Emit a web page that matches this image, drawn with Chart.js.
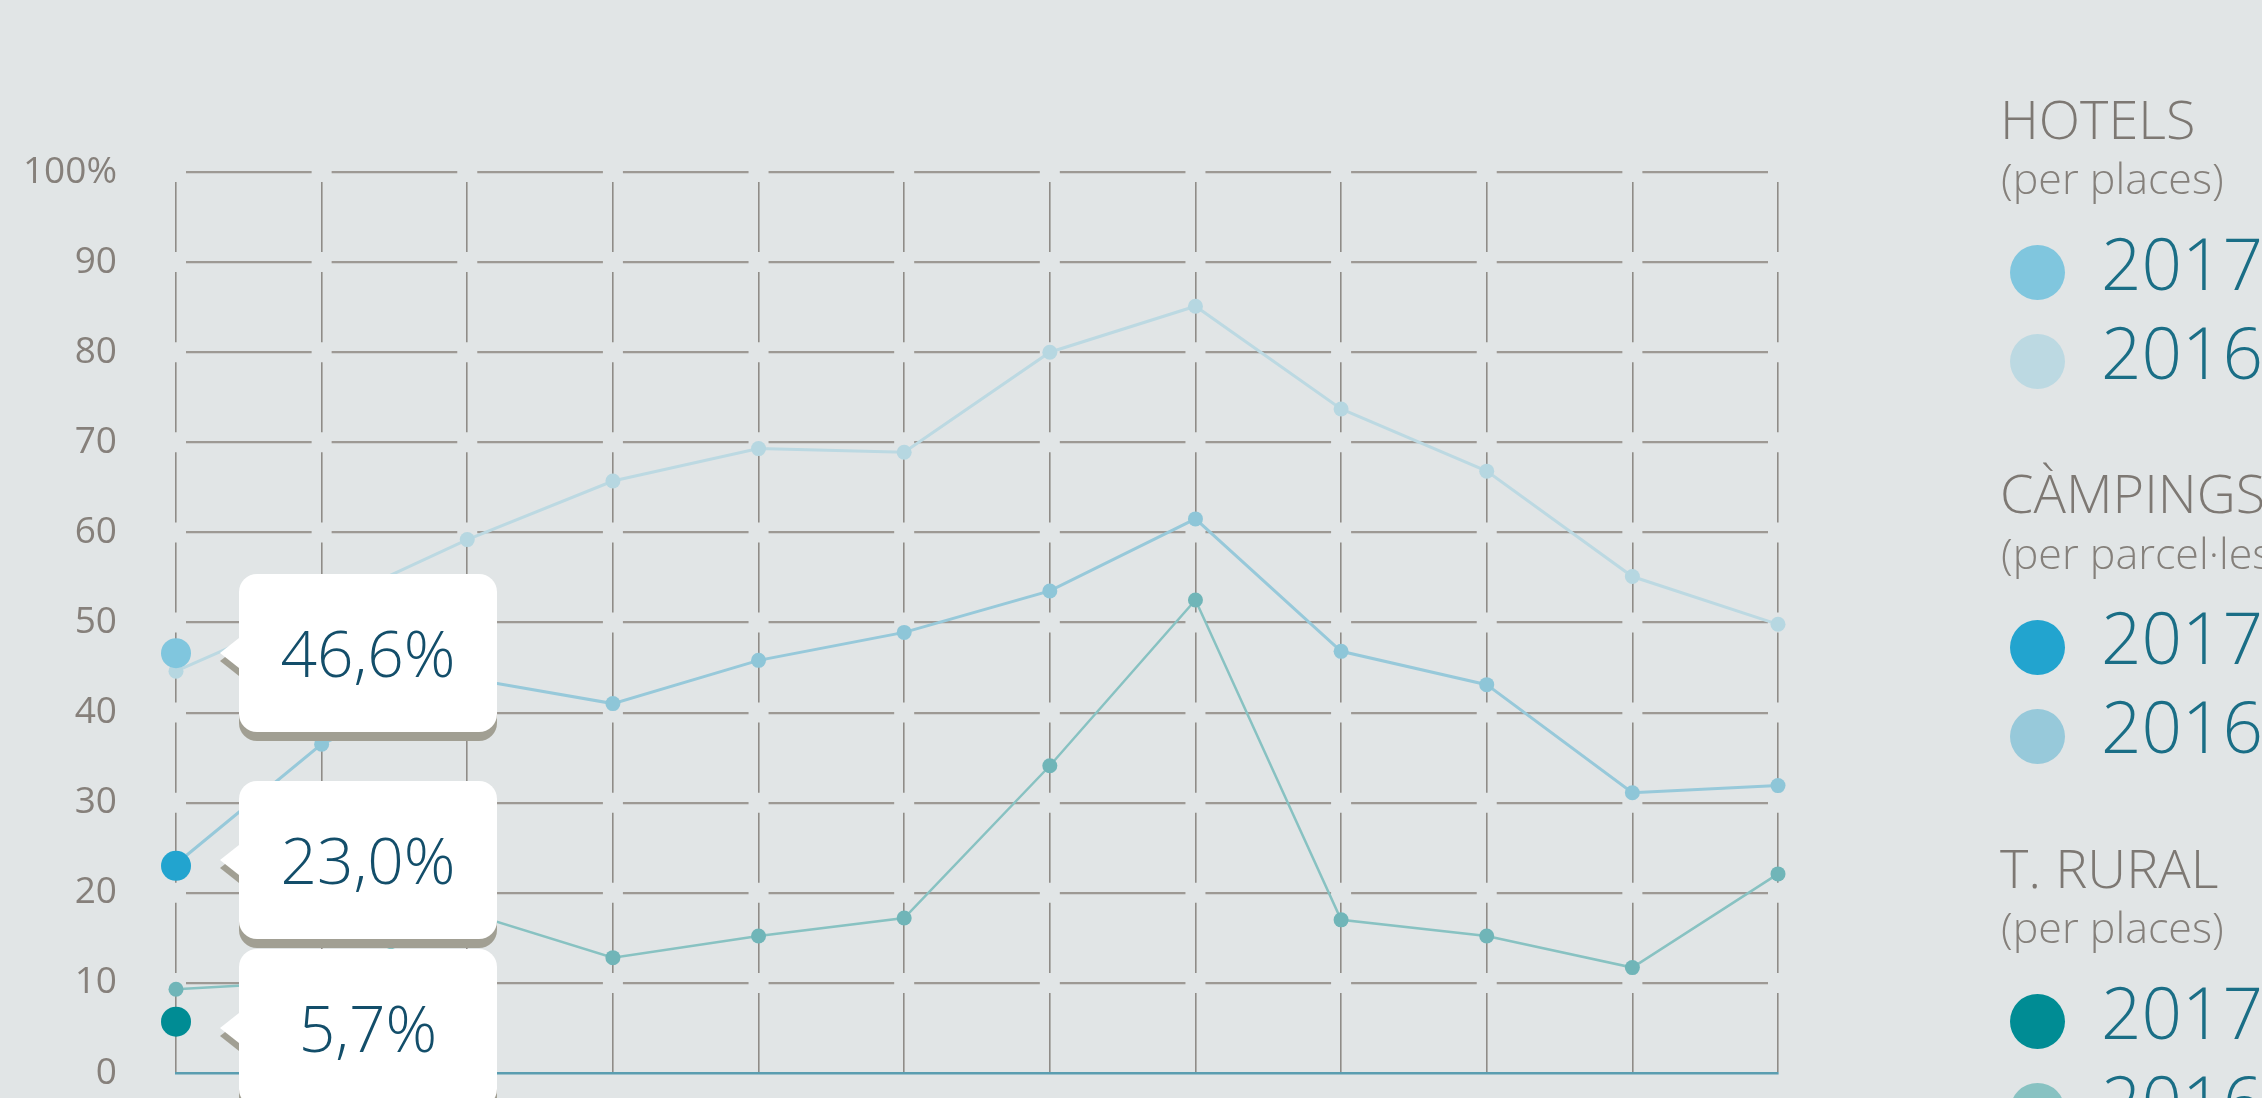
<!DOCTYPE html>
<html>
<head>
<meta charset="utf-8">
<script src="https://cdn.jsdelivr.net/npm/chart.js@4.4.1/dist/chart.umd.min.js"></script>
<style>
html,body{margin:0;padding:0;background:#e1e5e6;overflow:hidden;}
#wrap{position:relative;width:2262px;height:1098px;overflow:hidden;font-family:'Open Sans',sans-serif;background:#e1e5e6;}
#c{position:absolute;left:0;top:0;}
.lg{position:absolute;white-space:nowrap;line-height:1;font-weight:300;}
.grp{color:#7d7873;font-size:54px;}
.sub{color:#85807b;font-size:43px;}
.yr{color:#1a6e86;font-size:71px;font-weight:300;}
.dot{position:absolute;width:55px;height:55px;border-radius:50%;}
.tip{position:absolute;width:258px;height:158px;background:#fff;border-radius:18px;box-shadow:0 9px 0 0 #a19f93;display:flex;align-items:center;justify-content:center;font-size:64px;font-weight:300;color:#134e6a;line-height:1;}
.tip:before,.tip:after{content:"";position:absolute;left:-19px;width:0;height:0;border-top:15px solid transparent;border-bottom:15px solid transparent;}
.tip:before{border-right:19px solid #a19f93;top:calc(50% - 7px);}
.tip:after{border-right:19px solid #fff;top:calc(50% - 15px);}
</style>
</head>
<body>
<div id="wrap">
<canvas id="c" width="2262" height="1098" style="width:2262px;height:1098px"></canvas>
</div>
<script>
// ---- data ----
const months = ['Gen','Feb','Mar','Abr','Mai','Jun','Jul','Ago','Set','Oct','Nov','Des'];
const yTicks = [0,10,20,30,40,50,60,70,80,90,100];
const hotels2016   = [44.6, 51.7, 59.2, 65.7, 69.3, 68.9, 80.0, 85.1, 73.7, 66.8, 55.1, 49.8];
const campings2016 = [23.2, 36.5, 43.8, 41.0, 45.8, 48.9, 53.5, 61.5, 46.8, 43.1, 31.1, 31.9];
const rural2016    = [9.3, 10.2, 17.8, 12.8, 15.2, 17.2, 34.1, 52.5, 17.0, 15.2, 11.7, 22.1];
const hotels2017   = [46.6];
const campings2017 = [23.0];
const rural2017    = [5.7];
const groups = ['HOTELS', 'CÀMPINGS', 'T. RURAL'];
const groupUnits = ['(per places)', '(per parcel·les)', '(per places)'];
const years = ['2017', '2016'];

// ---- styles ----
const colors2017 = ['#80c6de', '#22a4cf', '#008c94'];
const colors2016 = ['#bcd9e2', '#97c9da', '#88c2c2'];
const points2016 = ['#b6d7e1', '#8ec6d8', '#70b5b8'];
const W = 2262, H = 1098;
const AREA = {left: 176, right: 1778, top: 172, bottom: 1073};
const colStep = (AREA.right - AREA.left) / (months.length - 1);
const rowStep = (AREA.bottom - AREA.top) / (yTicks.length - 1);
const GAP = 20;

// vertical grid lines: gap at every horizontal line except the base line
const vDash = [0, GAP / 2];
for (let r = 0; r < yTicks.length - 1; r++) {
  if (r < yTicks.length - 2) vDash.push(rowStep - GAP, GAP);
  else vDash.push(rowStep - GAP / 2, 2000);
}

const pad = (arr) => months.map((m, i) => (i < arr.length ? arr[i] : null));
const fmt = (v) => v.toFixed(1).replace('.', ',') + '%';

const line2016 = (label, data, i) => ({
  label, data, order: 2 + i,
  borderColor: colors2016[i], pointBackgroundColor: points2016[i], pointBorderWidth: 0,
  borderWidth: i === 2 ? 2.5 : 3, pointRadius: 7.5, tension: 0, clip: false, spanGaps: false
});
const dot2017 = (label, data, i) => ({
  label, data: pad(data), order: 0,
  borderColor: colors2017[i], backgroundColor: colors2017[i], pointBackgroundColor: colors2017[i],
  pointBorderWidth: 0, pointRadius: 15, showLine: false, clip: false
});

const datasets = [
  dot2017('Hotels 2017', hotels2017, 0),
  dot2017('Càmpings 2017', campings2017, 1),
  dot2017('T. rural 2017', rural2017, 2),
  line2016('Hotels 2016', hotels2016, 0),
  line2016('Càmpings 2016', campings2016, 1),
  line2016('T. rural 2016', rural2016, 2)
];

const tipPlugin = {
  id: 'tips',
  afterRender(chart) {
    if (chart._tipsDone) return;
    chart._tipsDone = true;
    const wrap = document.getElementById('wrap');
    const xs = chart.scales.x, ys = chart.scales.y;
    const vals = [hotels2017[0], campings2017[0], rural2017[0]];
    const h = 158, gap = 10;
    const centers = vals.map(v => ys.getPixelForValue(v));
    for (let k = 0; k < 3; k++) {
      for (let i = 0; i < centers.length - 1; i++) {
        const need = h + gap - (centers[i + 1] - centers[i]);
        if (need > 0) { centers[i] -= need / 2; centers[i + 1] += need / 2; }
      }
    }
    const x0 = xs.getPixelForValue(0);
    vals.forEach((v, i) => {
      const d = document.createElement('div');
      d.className = 'tip';
      d.textContent = fmt(v);
      d.style.left = (x0 + 63) + 'px';
      d.style.top = (centers[i] - h / 2) + 'px';
      wrap.appendChild(d);
    });
  }
};

new Chart(document.getElementById('c'), {
  type: 'line',
  data: {labels: months, datasets},
  plugins: [tipPlugin],
  options: {
    responsive: false, animation: false, devicePixelRatio: 1,
    layout: {padding: {left: 0, top: AREA.top, right: W - AREA.right, bottom: H - AREA.bottom}},
    plugins: {legend: {display: false}, tooltip: {enabled: false}},
    events: [],
    scales: {
      x: {
        type: 'category', offset: false,
        afterFit: (s) => { s.height = 0; },
        ticks: {display: false},
        grid: {display: true, drawTicks: false, color: '#8f8c88', lineWidth: 1.6, offset: false},
        border: {display: true, color: '#5a9db0', width: 2.5, dash: vDash, dashOffset: 0}
      },
      y: {
        min: 0, max: 100,
        afterBuildTicks: (s) => { s.ticks = yTicks.map(v => ({value: v})); },
        afterFit: (s) => { s.width = AREA.left; },
        ticks: {
          padding: 0, color: '#86807b',
          font: {family: "'Open Sans'", size: 37, weight: 400},
          callback: (v) => (v === 100 ? '100%' : String(v))
        },
        grid: {drawTicks: true, tickLength: 59, tickColor: 'rgba(0,0,0,0)', lineWidth: 2.2,
               color: (ctx) => (ctx.tick && ctx.tick.value === 0 ? 'rgba(0,0,0,0)' : '#9d9994')},
        border: {display: false, dash: [colStep - GAP, GAP], dashOffset: colStep - GAP / 2}
      }
    }
  }
});

// ---- legend (HTML text) ----
(function () {
  const wrap = document.getElementById('wrap');
  const add = (cls, txt, left, top) => {
    const d = document.createElement('div');
    d.className = 'lg ' + cls; d.textContent = txt;
    d.style.left = left + 'px'; d.style.top = top + 'px';
    wrap.appendChild(d);
  };
  groups.forEach((g, i) => {
    const B = 138.5 + 374.7 * i;
    add('grp', g, 2000, B - 48);
    add('sub', groupUnits[i], 2001, B + 17.3);
    years.forEach((y, j) => {
      const base = B + 151 + j * 89;
      add('yr', y, 2101, base - 63);
      const dot = document.createElement('div');
      dot.className = 'dot';
      dot.style.left = '2010px';
      dot.style.top = (base - 17 - 27.5) + 'px';
      dot.style.background = j === 0 ? colors2017[i] : colors2016[i];
      wrap.appendChild(dot);
    });
  });
})();
</script>
</body>
</html>
